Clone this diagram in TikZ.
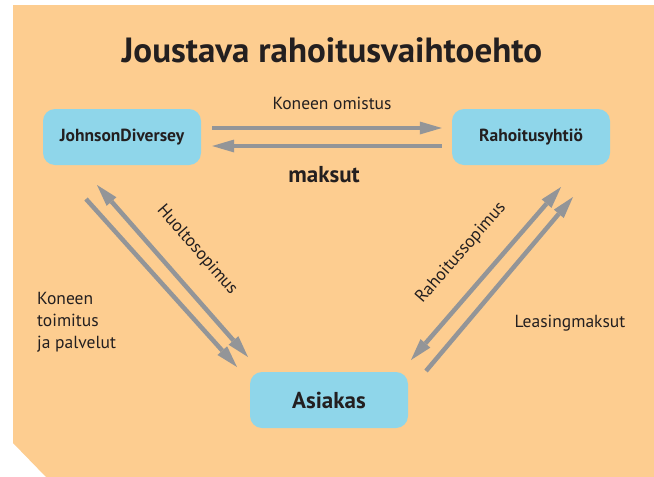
\documentclass[tikz,border=0pt]{standalone}
\usepackage{fontspec}
\setmainfont{PT Sans}
\usetikzlibrary{arrows.meta}

\definecolor{taustaoranssi}{HTML}{FDCD90}
\definecolor{laatikkosininen}{HTML}{8FD6EA}
\definecolor{nuolenharmaa}{HTML}{939598}
\definecolor{tekstimusta}{HTML}{231F20}

\tikzset{
    laatikko/.style={fill=laatikkosininen,
        rounded corners=12pt,
        minimum width=158pt,
        minimum height=56pt,
        text=tekstimusta,
        font=\bfseries\fontsize{17.5}{20}\selectfont},
    karki/.tip={Triangle[length=22pt,width=13pt,line width=0pt]},
    nuoli/.style={draw=nuolenharmaa, line width=4.5pt, -{karki}},
    kaksinuoli/.style={draw=nuolenharmaa, line width=4.5pt, {karki}-{karki}},
    selite/.style={text=tekstimusta, font=\fontsize{17.5}{22}\selectfont}
}

\begin{document}
\begin{tikzpicture}[x=1pt,y=-1pt]

    \useasboundingbox (0,0) rectangle (654,477);
    \fill[taustaoranssi] (13,5) -- (654,5) -- (654,477) -- (46,477) -- (13,443) -- cycle;

    \node[text=tekstimusta,
        font=\bfseries\fontsize{35}{40}\selectfont] (otsikko) at (332,50) {Joustava rahoitusvaihtoehto};

    \node[laatikko] (johnson) at (122,137) {JohnsonDiversey};
    \node[laatikko] (rahoitus) at (531,137) {Rahoitusyhtiö};
    \node[laatikko,
        font=\bfseries\fontsize{23}{26}\selectfont] (asiakas) at (329,400) {Asiakas};

    % omistus ja maksut
    \draw[nuoli, shorten <=11pt, shorten >=10pt] ([yshift=9pt]johnson.east) -- ([yshift=9pt]rahoitus.west);
    \draw[nuoli, shorten <=10pt, shorten >=11pt] ([yshift=-9pt]rahoitus.west) -- ([yshift=-9pt]johnson.east);
    \node[selite] (omistus) at (332,103) {Koneen omistus};
    \node[selite,
        font=\bfseries\fontsize{23}{26}\selectfont] (maksut) at (324,175) {maksut};

    % vasen puoli
    \coordinate (toimitusalku) at (86,199);
    \coordinate (toimitusloppu) at (237,367);
    \coordinate (huoltoyla) at (97,185);
    \coordinate (huoltoala) at (248,357);
    \draw[nuoli] (toimitusalku) -- (toimitusloppu);
    \draw[kaksinuoli] (huoltoyla) -- (huoltoala);
    \node[selite, rotate=-49] (huolto) at (197,250) {Huoltosopimus};
    \node[selite, align=left, anchor=north west, inner sep=0pt] (toimitus) at (37,292) {Koneen\\toimitus\\ja palvelut};

    % oikea puoli
    \coordinate (sopimusyla) at (561,187);
    \coordinate (sopimusala) at (411,360);
    \coordinate (leasingalku) at (426,371);
    \coordinate (leasingloppu) at (573,197);
    \draw[kaksinuoli] (sopimusyla) -- (sopimusala);
    \draw[nuoli] (leasingalku) -- (leasingloppu);
    \node[selite, rotate=49] (sopimus) at (461,253) {Rahoitussopimus};
    \node[selite] (leasing) at (570,323) {Leasingmaksut};

\end{tikzpicture}
\end{document}
